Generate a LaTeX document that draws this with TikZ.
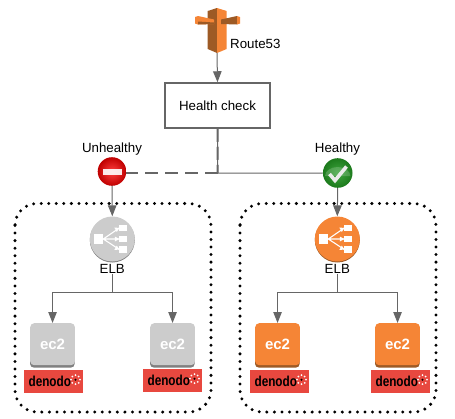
\documentclass[tikz,border=0pt]{standalone}
\usepackage{fontspec}
\usepackage{graphicx}
\setmainfont{Liberation Sans}
\usetikzlibrary{arrows.meta,calc}
\definecolor{lineg}{HTML}{666666}
\definecolor{awsor}{HTML}{F58536}
\definecolor{awsdk}{HTML}{9D5A25}
\definecolor{offg}{HTML}{CCCCCC}
\definecolor{offdk}{HTML}{808080}
\definecolor{denred}{HTML}{E8483F}
\definecolor{okin}{HTML}{3FA53F}
\definecolor{okout}{HTML}{1C7A1C}
\tikzset{
  x=1pt,y=-1pt,
  lbl/.style={font=\fontsize{13.3}{15}\selectfont,text=black,inner sep=0pt},
  conn/.style={draw=lineg,line width=1pt,-{Triangle[length=11pt,width=8.5pt,fill=lineg]}},
  wire/.style={draw=lineg,line width=1pt},
  grp/.style={draw=black,line width=3.3pt,line cap=round,dash pattern=on 0pt off 7.55pt,rounded corners=22pt},
  checkbox/.style={draw=lineg,line width=1.5pt,fill=white,minimum width=105pt,minimum height=45pt,inner sep=0pt,font=\fontsize{13.3}{15}\selectfont},
  ec2top/.style={rounded corners=4pt,minimum width=44.7pt,minimum height=42pt,inner sep=0pt,text=white,font=\fontsize{15}{16}\selectfont\bfseries},
  denbox/.style={fill=denred,minimum width=59pt,minimum height=23pt,inner sep=0pt},
  round/.style={circle,minimum size=#1,inner sep=0pt},
}
% ELB icon: #1 body, #2 rim, #3 name, #4 x, #5 y
\newcommand{\elbicon}[5]{
  \fill[#2] (#4,#5+1) circle (22.5);
  \node[round=45pt,fill=#1] (#3) at (#4,#5) {};
  \begin{scope}[shift={(#4,#5)}]
    \fill[white] (-18,-5) rectangle (-9,5);
    \fill[white] (7,-14) rectangle (15,-8);
    \fill[white] (7,-3) rectangle (15,3);
    \fill[white] (7,7) rectangle (15,14);
    \draw[white,line width=1.1pt] (-9,0) -- (7,-11) (-9,0) -- (7,0) (-9,0) -- (7,10.5);
    \fill[white] (7,-11) -- (2,-11.5) -- (4.5,-7) -- cycle;
    \fill[white] (7,0) -- (2.5,-2.5) -- (2.5,2.5) -- cycle;
    \fill[white] (7,10.5) -- (2,11) -- (4.5,6.5) -- cycle;
  \end{scope}
}
% EC2 icon: #1 body, #2 rim, #3 name, #4 left x
\newcommand{\ectwo}[4]{
  \fill[#2,rounded corners=4pt] (#4,330) rectangle (#4+44.7,367.7);
  \node[ec2top,fill=#1,anchor=north west] (#3) at (#4,323) {ec2};
}
% Denodo logo: #1 name, #2 centre x, #3 centre y
\newcommand{\denlogo}[3]{
  \node[denbox] (#1) at (#2,#3) {};
  \node[inner sep=0pt,text=black,font=\fontsize{12}{13}\selectfont\bfseries] at (#2-3.7,#3+0.3) {\scalebox{0.98}[1.2]{denodo}};
  \begin{scope}[shift={(#2+22,#3-1.8)}]
    \fill[black] (0,0) circle (1.1);
    \foreach \a in {0,45,...,315}{\fill[white] (\a:4.5) circle (1);}
  \end{scope}
}
\begin{document}
\begin{tikzpicture}
\useasboundingbox (0,0) rectangle (455,418);
% groups
\draw[grp] (15,203.5) rectangle (211,412);
\draw[grp] (240,203.5) rectangle (436,412);
% route53
\fill[awsdk] (217,8) -- (207.7,11) -- (207.7,49) -- (217,53) -- cycle;
\fill[awsor] (217,8) -- (226.7,11) -- (226.7,49) -- (217,53) -- cycle;
\fill[awsor] (195,17) -- (198,16) -- (214,19.5) -- (214,24) -- (198,24.5) -- (195,23.5) -- cycle;
\fill[awsdk] (198,24.5) -- (198,21.5) -- (214,22.5) -- (214,24) -- cycle;
\fill[awsdk] (221,24) -- (221,19.5) -- (237,16) -- (237,24.5) -- cycle;
\fill[awsor] (237,16) -- (240,17) -- (240,23.5) -- (237,24.5) -- cycle;
\coordinate (r53bot) at (217,53);
\node[lbl,anchor=west] (r53lbl) at (230,44) {Route53};
% health check
\node[checkbox] (check) at (217.5,105.5) {Health check};
\draw[conn] (r53bot) -- (check.north);
% status icons
\coordinate (hub) at (217.7,173);
\node[round=28pt] (bad) at (112,171.5) {};
\node[round=30pt] (good) at (337.7,173) {};
\draw[wire] (check.south) -- (hub) -- (good.west);
\draw[draw=lineg,line width=2pt,dash pattern=on 13pt off 7pt] (hub) -- (bad.east |- hub);
\draw[draw=lineg,line width=2pt,dash pattern=on 13pt off 5pt] (check.south) -- (hub);
\shade[inner color=red!75!white,outer color=red!75!black] (112,171.5) circle (14.3);
\fill[white,opacity=0.9] (102.5,169) rectangle (121.5,174.5);
\shade[inner color=okin,outer color=okout] (337.7,173) circle (14.8);
\fill[white,opacity=0.18] (325,176) arc (180:360:12.7 and 9) -- cycle;
\draw[white!92!black,line width=3.6pt] (329.5,174) -- (335,180.5) -- (346.5,166.5);
\node[lbl] (badlbl) at (112,149.5) {Unhealthy};
\node[lbl] (goodlbl) at (337.5,149.5) {Healthy};
% left zone
\elbicon{offg}{offdk}{elbA}{112.3}{239}
\node[lbl] (elbAl) at (112.3,269) {ELB};
\draw[conn] (bad.south) -- (elbA.north);
\coordinate (splitA) at (112.3,292.3);
\ectwo{offg}{offdk}{ecA}{30}
\ectwo{offg}{offdk}{ecB}{150}
\draw[wire] (elbAl.south) -- (splitA);
\draw[draw=lineg,line width=1.6pt] (ecA.north |- splitA) -- (ecB.north |- splitA);
\draw[conn] (ecA.north |- splitA) -- (ecA.north);
\draw[conn] (ecB.north |- splitA) -- (ecB.north);
\denlogo{dA}{53.5}{381.5}
\denlogo{dB}{172.5}{380.5}
% right zone
\elbicon{awsor}{awsdk}{elbB}{337.3}{239}
\node[lbl] (elbBl) at (337.3,269) {ELB};
\draw[conn] (good.south) -- (elbB.north);
\coordinate (splitB) at (337.3,292.3);
\ectwo{awsor}{awsdk}{ecC}{255}
\ectwo{awsor}{awsdk}{ecD}{375}
\draw[wire] (elbBl.south) -- (splitB);
\draw[draw=lineg,line width=1.6pt] (ecC.north |- splitB) -- (ecD.north |- splitB);
\draw[conn] (ecC.north |- splitB) -- (ecC.north);
\draw[conn] (ecD.north |- splitB) -- (ecD.north);
\denlogo{dC}{279.5}{381.5}
\denlogo{dD}{400.5}{381.5}
\end{tikzpicture}
\end{document}
